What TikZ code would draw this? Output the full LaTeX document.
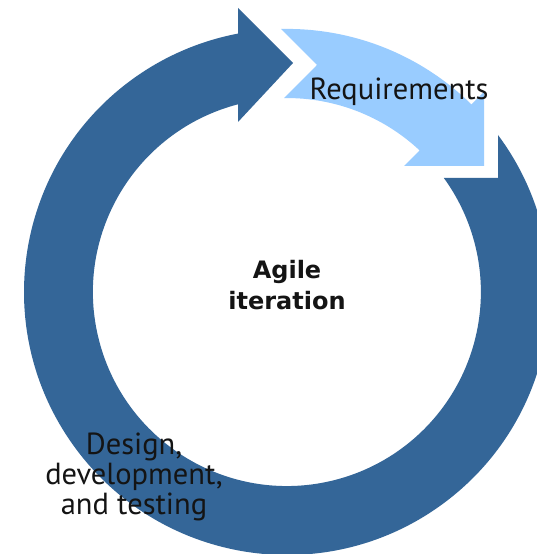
\documentclass[tikz,border=0pt]{standalone}
\usepackage{fontspec}
\setmainfont{PT Sans}
\newfontfamily\boldlabel{DejaVu Sans}[BoldFont={DejaVu Sans Bold}]
\definecolor{ringdark}{RGB}{52,102,152}
\definecolor{ringlight}{RGB}{153,204,255}
\definecolor{labeltext}{RGB}{20,20,20}
\tikzset{
  darkseg/.style={fill=ringdark},
  lightseg/.style={fill=ringlight},
  steplabel/.style={inner sep=0pt, text=labeltext, font=\fontsize{30.5}{30}\selectfont, align=center},
  centerlabel/.style={inner sep=0pt, text=labeltext, font=\boldlabel\bfseries\fontsize{24}{31}\selectfont, align=center}
}
\begin{document}
\begin{tikzpicture}[x=1pt,y=1pt]
\useasboundingbox (0,0) rectangle (537,554);
\fill[white] (0,0) rectangle (537,554);
\clip (0,0) rectangle (537,554);
% dark ring arrow: design, development and testing
\fill[darkseg] (498,419) arc[start angle=36.65, end angle=-259.3, radius=263pt]
  -- (238,546) -- (293,491) -- (238,432) -- (238,449.7)
  arc[start angle=-255.4, end angle=36.0, radius=194pt]
  -- (498,376) -- cycle;
% light arrow: requirements
\fill[lightseg] (281,525) arc[start angle=91.31, end angle=45.46, radius=263pt]
  -- (484,462) -- (484,388) -- (404,388) -- (419.6,403.6)
  arc[start angle=46.9, end angle=90.9, radius=194pt]
  -- (317,489) -- cycle;
\node[steplabel, anchor=base] (req) at (399,454) {Requirements};
\node[centerlabel] (agile) at (287,268.5) {Agile\\iteration};
\node[steplabel] (design) at (134,77.5) {Design,\\development,\\and testing};
\end{tikzpicture}
\end{document}
